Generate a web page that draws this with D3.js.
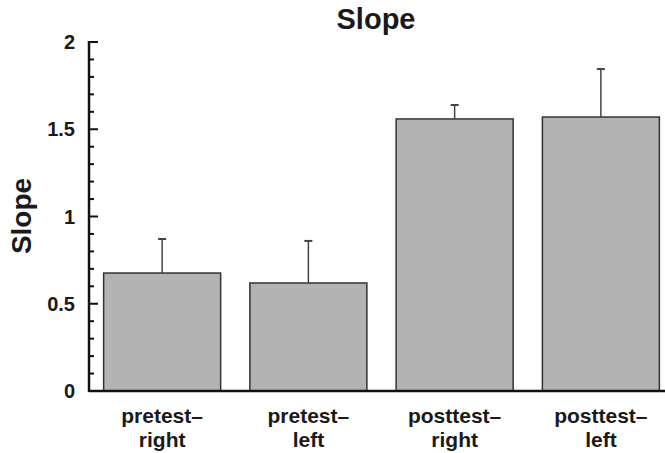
<!DOCTYPE html>
<html>
<head>
<meta charset="utf-8">
<script src="https://cdn.jsdelivr.net/npm/d3@7"></script>
<style>
  body { margin: 0; background: #fff; }
  text { font-family: "Liberation Sans", Arial, Helvetica, sans-serif; font-weight: bold; fill: #1a1a1a; }
</style>
</head>
<body>
<div id="chart"></div>
<script>
const categories = [["pretest–", "right"], ["pretest–", "left"], ["posttest–", "right"], ["posttest–", "left"]];
const means = [0.676, 0.619, 1.559, 1.570];
const errors = [0.195, 0.241, 0.080, 0.275];
const yTicks = [0, 0.5, 1, 1.5, 2];

const width = 665, height = 453;

const svg = d3.select("#chart").append("svg")
    .attr("width", width)
    .attr("height", height);

const x = d3.scaleBand()
    .domain(d3.range(categories.length))
    .range([89, 674])
    .paddingInner(0.2)
    .paddingOuter(0.1);

const y = d3.scaleLinear().domain([0, 2]).range([391, 42]);

// bars
svg.append("g").selectAll("rect")
    .data(means)
    .enter().append("rect")
    .attr("x", (d, i) => x(i))
    .attr("y", d => y(d))
    .attr("width", x.bandwidth())
    .attr("height", d => y(0) - y(d))
    .style("fill", "#b3b3b3")
    .style("stroke", "#333")
    .style("stroke-width", 1.5);

// error bars (upper only)
const err = svg.append("g").selectAll("g")
    .data(means)
    .enter().append("g");
err.append("line")
    .attr("x1", (d, i) => x(i) + x.bandwidth() / 2)
    .attr("x2", (d, i) => x(i) + x.bandwidth() / 2)
    .attr("y1", d => y(d))
    .attr("y2", (d, i) => y(d + errors[i]))
    .style("stroke", "#444")
    .style("stroke-width", 1.5);
err.append("line")
    .attr("x1", (d, i) => x(i) + x.bandwidth() / 2 - 4)
    .attr("x2", (d, i) => x(i) + x.bandwidth() / 2 + 4)
    .attr("y1", (d, i) => y(d + errors[i]))
    .attr("y2", (d, i) => y(d + errors[i]))
    .style("stroke", "#444")
    .style("stroke-width", 2);

// y axis with minor ticks pointing inward
const axisX = 89;
const minor = d3.range(0, 2.001, 0.1).filter(v => Math.abs(v * 2 - Math.round(v * 2)) > 1e-6);
svg.append("g").selectAll("line.minor")
    .data(minor)
    .enter().append("line")
    .attr("x1", axisX).attr("x2", axisX + 5)
    .attr("y1", d => y(d)).attr("y2", d => y(d))
    .style("stroke", "#111").style("stroke-width", 2);
svg.append("g").selectAll("line.major")
    .data(yTicks)
    .enter().append("line")
    .attr("x1", axisX).attr("x2", axisX + 9)
    .attr("y1", d => y(d)).attr("y2", d => y(d))
    .style("stroke", "#111").style("stroke-width", 2);
svg.append("line")
    .attr("x1", axisX).attr("x2", axisX)
    .attr("y1", y(2) - 1).attr("y2", y(0) + 1)
    .style("stroke", "#111").style("stroke-width", 2.5);
svg.append("line")
    .attr("x1", axisX).attr("x2", width)
    .attr("y1", y(0)).attr("y2", y(0))
    .style("stroke", "#111").style("stroke-width", 2.5);

svg.append("g").selectAll("text")
    .data(yTicks)
    .enter().append("text")
    .attr("x", 75)
    .attr("y", d => y(d))
    .attr("dy", "0.36em")
    .style("text-anchor", "end")
    .style("font-size", "20px")
    .text(d => d3.format("")(d));

// x labels
const xl = svg.append("g").selectAll("text")
    .data(categories)
    .enter().append("text")
    .style("text-anchor", "middle")
    .style("font-size", "21px");
xl.append("tspan")
    .attr("x", (d, i) => x(i) + x.bandwidth() / 2)
    .attr("y", 423)
    .text(d => d[0]);
xl.append("tspan")
    .attr("x", (d, i) => x(i) + x.bandwidth() / 2)
    .attr("y", 447)
    .text(d => d[1]);

// title & y label
svg.append("text")
    .attr("x", 376).attr("y", 29)
    .style("text-anchor", "middle")
    .style("font-size", "29px")
    .text("Slope");

svg.append("text")
    .attr("transform", `translate(31, 216) rotate(-90)`)
    .style("text-anchor", "middle")
    .style("font-size", "28px")
    .text("Slope");
</script>
</body>
</html>
